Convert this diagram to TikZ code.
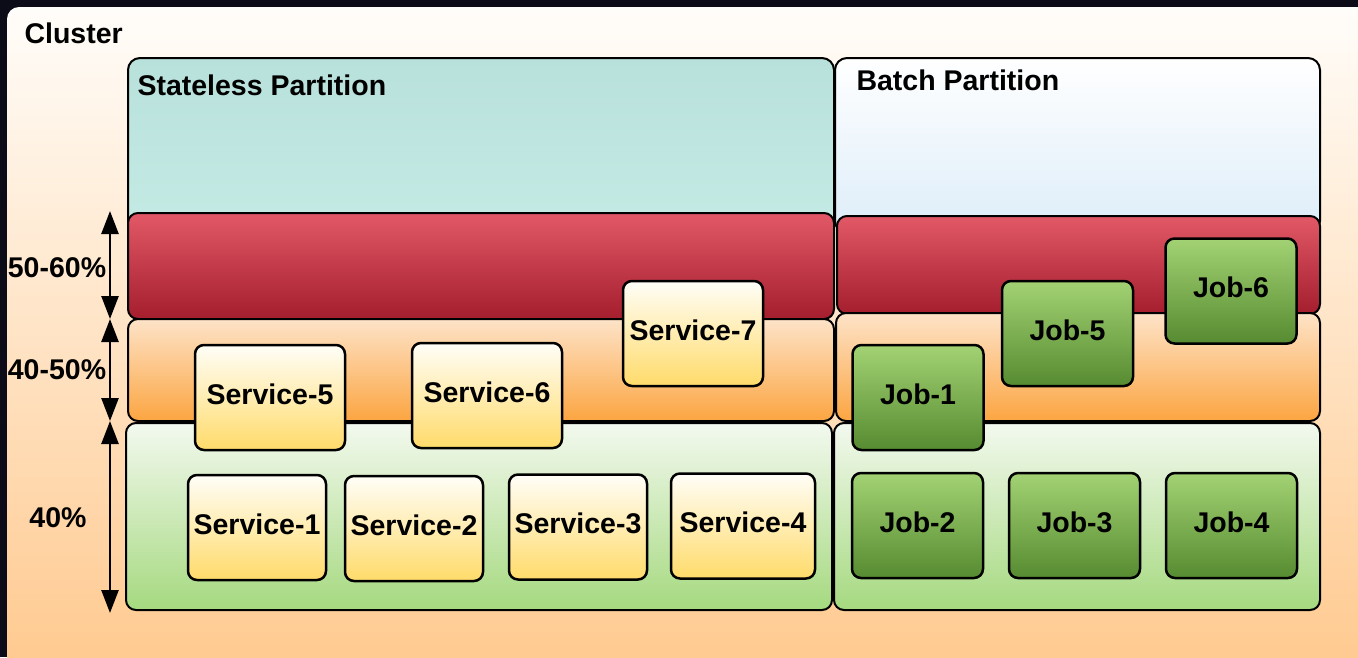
\documentclass[tikz,border=0pt]{standalone}
\usepackage{fontspec}
\setmainfont{Liberation Sans}
\usetikzlibrary{arrows.meta}

\definecolor{frame}{HTML}{0C0C18}
\definecolor{clustertop}{HTML}{FFFDFA}
\definecolor{clusterbot}{HTML}{FFC88C}
\definecolor{tealtop}{HTML}{B9E1DB}
\definecolor{tealbot}{HTML}{C4EAE4}
\definecolor{bluetop}{HTML}{FFFFFF}
\definecolor{bluebot}{HTML}{DDEDF9}
\definecolor{redtop}{HTML}{E25866}
\definecolor{redbot}{HTML}{A41E2E}
\definecolor{orgtop}{HTML}{FDE3C8}
\definecolor{orgbot}{HTML}{FCA541}
\definecolor{grntop}{HTML}{F3F9EF}
\definecolor{grnbot}{HTML}{A5D97F}
\definecolor{svctop}{HTML}{FFFEF8}
\definecolor{svcbot}{HTML}{FFDB6A}
\definecolor{jobtop}{HTML}{A2D273}
\definecolor{jobbot}{HTML}{578B31}

\tikzset{
  lbl/.style={font=\fontsize{28.5}{32}\selectfont\bfseries, text=black},
  region/.style={draw=black, line width=2pt, rounded corners=10pt,
    anchor=north west, inner sep=0pt},
  svcbox/.style={lbl, draw=black, line width=2.5pt, rounded corners=9pt,
    top color=svctop, bottom color=svcbot, inner sep=0pt, text depth=7pt,
    minimum height=105pt},
  jobbox/.style={lbl, draw=black, line width=2.5pt, rounded corners=9pt,
    top color=jobtop, bottom color=jobbot, inner sep=0pt, text depth=7pt,
    minimum width=131pt, minimum height=105pt},
  span/.style={line width=2.5pt, {Triangle[length=23pt,width=17pt]}-{Triangle[length=23pt,width=17pt]}}
}

\begin{document}
\begin{tikzpicture}[x=1pt,y=-1pt]
  \clip (0,0) rectangle (1358,657);
  % dark frame and cluster panel
  \fill[frame] (0,0) rectangle (1358,657);
  \shade[top color=clustertop, bottom color=clusterbot, rounded corners=12pt]
    (7,7) rectangle (1390,690);
  \node[lbl, anchor=west] (cluster) at (21,33) {Cluster};

  % partitions
  \node[region, rounded corners=12pt, top color=tealtop, bottom color=tealbot,
        minimum width=706pt, minimum height=175pt] (stateless) at (127,57) {};
  \node[region, rounded corners=12pt, top color=bluetop, bottom color=bluebot,
        minimum width=485pt, minimum height=175pt] (batch) at (834,57) {};
  \node[lbl, anchor=west] (statelesslbl) at (134,85) {Stateless Partition};
  \node[lbl, anchor=west] (batchlbl) at (853,80) {Batch Partition};

  % utilisation bands, stateless side
  \node[region, top color=redtop, bottom color=redbot,
        minimum width=706pt, minimum height=106pt] (sred) at (127,212) {};
  \node[region, top color=orgtop, bottom color=orgbot,
        minimum width=706pt, minimum height=102pt] (sorg) at (127,318) {};
  \node[region, top color=grntop, bottom color=grnbot,
        minimum width=706pt, minimum height=187pt] (sgrn) at (125,422) {};

  % utilisation bands, batch side
  \node[region, top color=redtop, bottom color=redbot,
        minimum width=483pt, minimum height=98pt] (bred) at (836,215) {};
  \node[region, top color=orgtop, bottom color=orgbot,
        minimum width=484pt, minimum height=108pt] (borg) at (835,312) {};
  \node[region, top color=grntop, bottom color=grnbot,
        minimum width=486pt, minimum height=187pt] (bgrn) at (833,422) {};

  % services
  \node[svcbox, minimum width=150pt] (s5) at (270,397.5) {Service-5};
  \node[svcbox, minimum width=150pt] (s6) at (487,395.5) {Service-6};
  \node[svcbox, minimum width=140pt] (s7) at (693,333.5) {Service-7};
  \node[svcbox, minimum width=138pt] (s1) at (257,527.5) {Service-1};
  \node[svcbox, minimum width=138pt] (s2) at (414,528.5) {Service-2};
  \node[svcbox, minimum width=138pt] (s3) at (578,527) {Service-3};
  \node[svcbox, minimum width=144pt] (s4) at (743,526) {Service-4};

  % jobs
  \node[jobbox] (j1) at (918,397.5) {Job-1};
  \node[jobbox] (j5) at (1067.5,333.5) {Job-5};
  \node[jobbox] (j6) at (1231,291) {Job-6};
  \node[jobbox] (j2) at (917.5,525.5) {Job-2};
  \node[jobbox] (j3) at (1074.5,525.5) {Job-3};
  \node[jobbox] (j4) at (1231.5,525.5) {Job-4};

  % utilisation ranges
  \coordinate (m0) at (110,211);
  \coordinate (m1) at (110,319);
  \coordinate (m2) at (110,421);
  \coordinate (m3) at (110,613);
  \draw[span] (m0) -- (m1);
  \draw[span] (m1) -- (m2);
  \draw[span] (m2) -- (m3);
  \node[lbl] (p1) at (57,268) {50-60\%};
  \node[lbl] (p2) at (57,370) {40-50\%};
  \node[lbl] (p3) at (58,518) {40\%};
\end{tikzpicture}
\end{document}
